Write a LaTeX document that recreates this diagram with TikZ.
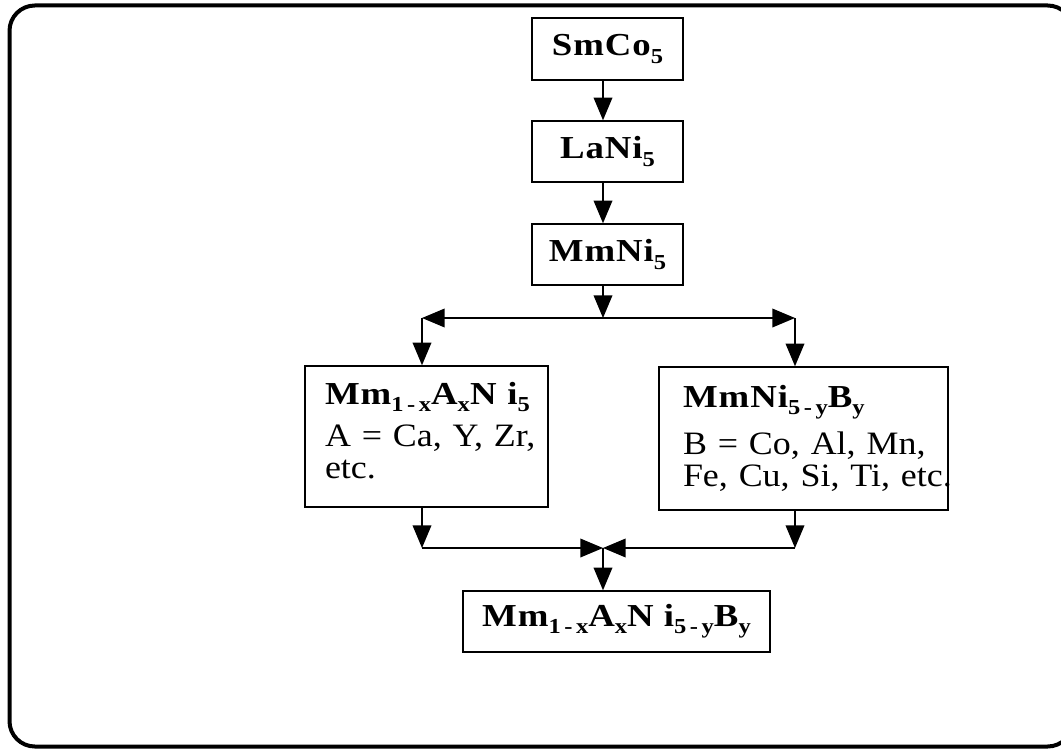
\documentclass[tikz,border=0pt]{standalone}
\usepackage{fontspec}
\setmainfont{Liberation Serif}[FakeStretch=1.1]
\newfontfamily\tfont{Liberation Serif}[FakeStretch=1.15,LetterSpace=3]
\usetikzlibrary{arrows.meta}
\newcommand\sbx[1]{\raisebox{-0.22em}{\fontsize{16}{16}\selectfont #1}}
\begin{document}
\begin{tikzpicture}[x=0.75pt,y=-0.75pt,
  box/.style={draw,line width=1.1pt,inner sep=0pt,font=\tfont\bfseries\fontsize{24}{24}\selectfont},
  mbox/.style={draw,line width=1.1pt,inner ysep=0pt,align=left,font=\fontsize{24.5}{24}\selectfont},
  arr/.style={line width=1.1pt,-{Triangle[length=17pt,width=14pt]}}]
\useasboundingbox (0,0) rectangle (1061,749);
\clip (0,0) rectangle (1061,749);
\draw[line width=3pt, rounded corners=19pt] (9.5,5.5) rectangle (1073,746.5);

\node[box,minimum width=113.25pt,minimum height=46.5pt] (s) at (607.5,49) {SmCo\sbx{5}};
\node[box,minimum width=113.25pt,minimum height=45.75pt] (l) at (607.5,151.5) {LaNi\sbx{5}};
\node[box,minimum width=113.25pt,minimum height=45.75pt] (m) at (607.5,254.5) {MmNi\sbx{5}};

\node[mbox,minimum width=182.25pt,minimum height=105.75pt,text width=152.25pt,inner xsep=15pt] (a) at (426.5,436.5)
  {\mbox{\tfont\bfseries\fontsize{24}{24}\selectfont Mm\sbx{1\,-\,x}A\sbx{x}N i\sbx{5}}\\[8pt]
   \mbox{A = Ca, Y, Zr,}\\
   \mbox{etc.\rule[-9pt]{0pt}{9pt}}};
\node[mbox,minimum width=216.75pt,minimum height=107.25pt,text width=180.75pt,inner xsep=18pt] (b) at (803.5,438.5)
  {\mbox{\tfont\bfseries\fontsize{24}{24}\selectfont MmNi\sbx{5\,-\,y}B\sbx{y}}\\[8pt]
   \mbox{B = Co, Al, Mn,}\\
   \mbox{Fe, Cu, Si, Ti, etc.}};
\node[box,minimum width=230.25pt,minimum height=45.75pt] (c) at (616.5,621.5)
  {Mm\sbx{1\,-\,x}A\sbx{x}N i\sbx{5\,-\,y}B\sbx{y}};

\coordinate (top) at (603,318);
\coordinate (jl) at (422,318);
\coordinate (jr) at (795,318);
\coordinate (bot) at (603,548);
\coordinate (bl) at (422,548);
\coordinate (br) at (795,548);

\draw[arr] (s.south -| top) -- (l.north -| top);
\draw[arr] (l.south -| top) -- (m.north -| top);
\draw[arr] (m.south -| top) -- (top);
\draw[arr] (top) -- (jl);
\draw[arr] (top) -- (jr);
\draw[arr] (jl) -- (jl |- a.north);
\draw[arr] (jr) -- (jr |- b.north);
\draw[arr] (bl |- a.south) -- (bl);
\draw[arr] (br |- b.south) -- (br);
\draw[arr] (bl) -- (bot);
\draw[arr] (br) -- (bot);
\draw[arr] (bot) -- (bot |- c.north);
\end{tikzpicture}
\end{document}
